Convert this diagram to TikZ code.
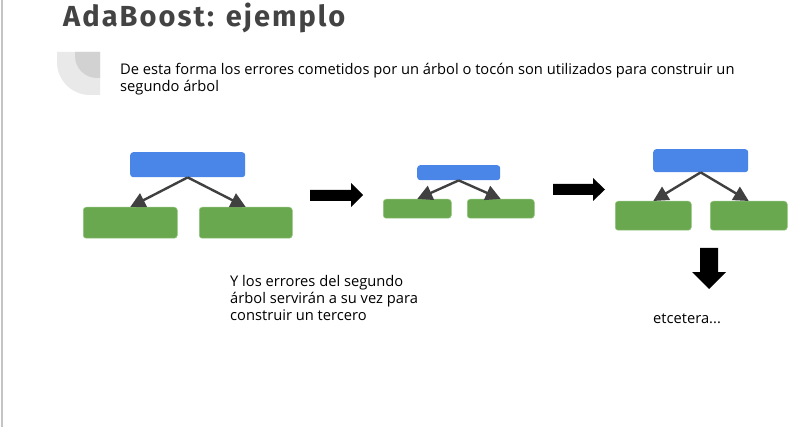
\documentclass[tikz,border=0pt]{standalone}
\usepackage{fontspec}
\setmainfont{Open Sans}
\newfontfamily\titlefont[LetterSpace=7]{Fira Sans}
\usetikzlibrary{arrows.meta}
\definecolor{gblue}{HTML}{4A86E8}
\definecolor{ggreen}{HTML}{6AA84F}
\definecolor{gleafedge}{HTML}{93C47D}
\definecolor{tgray}{HTML}{434343}
\definecolor{agray}{HTML}{404040}
\definecolor{decoA}{HTML}{E9E9E9}
\definecolor{decoB}{HTML}{D2D2D2}
\definecolor{borderg}{HTML}{C4C4C4}
\tikzset{
  rootbox/.style={fill=gblue, rounded corners=3pt, inner sep=0pt, anchor=north west},
  leafbox/.style={fill=ggreen, draw=gleafedge, line width=0.5pt, rounded corners=3pt, inner sep=0pt, anchor=north west},
  treeedge/.style={draw=agray, line width=2.4pt, arrows={-Triangle[length=15pt,width=15pt]}},
  blockarrow/.style={fill=black},
  bodytext/.style={font=\fontsize{14.7}{17}\selectfont, text=black, inner sep=0pt, align=left},
}
\begin{document}
\begin{tikzpicture}[x=1pt,y=-1pt]
\useasboundingbox (0,0) rectangle (791,427);
\fill[white] (0,0) rectangle (791,427);
% left border
\draw[borderg, line width=1.5pt] (2,0) -- (2,427);
% title
\node[anchor=base west, inner sep=0pt, text=tgray, font=\titlefont\bfseries\fontsize{29}{32}\selectfont] (title) at (63,27) {AdaBoost: ejemplo};
% decoration
\fill[decoA] (57,52) -- (100,52) -- (100,95) -- (90,95) arc[start angle=90,end angle=180,radius=33] -- cycle;
\fill[decoB] (75,52) -- (100,52) -- (100,78) -- (97,78) arc[start angle=90,end angle=180,radius=22] -- cycle;
% paragraph
\node[bodytext, anchor=north west] (para) at (120,63) {De esta forma los errores cometidos por un árbol o tocón son utilizados para construir un\\segundo árbol};
% tree 1
\node[rootbox, minimum width=115pt, minimum height=25pt] (r1) at (130,152) {};
\node[leafbox, minimum width=94pt, minimum height=31pt] (a1) at (83,207) {};
\node[leafbox, minimum width=93pt, minimum height=31pt] (b1) at (199,207) {};
\draw[treeedge] (r1.south) -- (a1.north);
\draw[treeedge] (r1.south) -- (b1.north);
% arrow 1
\fill[blockarrow] (310,190) -- (351,190) -- (351,183) -- (363,195) -- (351,207) -- (351,201) -- (310,201) -- cycle;
% tree 2
\node[rootbox, minimum width=83pt, minimum height=15pt] (r2) at (417,165) {};
\node[leafbox, minimum width=68pt, minimum height=19pt] (a2) at (383,199) {};
\node[leafbox, minimum width=67pt, minimum height=19pt] (b2) at (467,199) {};
\draw[treeedge] (r2.south) -- (a2.north);
\draw[treeedge] (r2.south) -- (b2.north);
% arrow 2
\fill[blockarrow] (553,184) -- (593,184) -- (593,178) -- (605,189.5) -- (593,201) -- (593,195) -- (553,195) -- cycle;
% tree 3
\node[rootbox, minimum width=95pt, minimum height=23pt] (r3) at (653,149) {};
\node[leafbox, minimum width=76pt, minimum height=29pt] (a3) at (615,201) {};
\node[leafbox, minimum width=77pt, minimum height=29pt] (b3) at (710,201) {};
\draw[treeedge] (r3.south) -- (a3.north);
\draw[treeedge] (r3.south) -- (b3.north);
% down arrow
\fill[blockarrow] (700,248) -- (718,248) -- (718,272) -- (726,272) -- (709,289) -- (692,272) -- (700,272) -- cycle;
% texts
\node[bodytext, anchor=north west] (txt2) at (230,275) {Y los errores del segundo\\árbol servirán a su vez para\\construir un tercero};
\node[bodytext, anchor=base west] (etc) at (653,323) {etcetera...};
\end{tikzpicture}
\end{document}
